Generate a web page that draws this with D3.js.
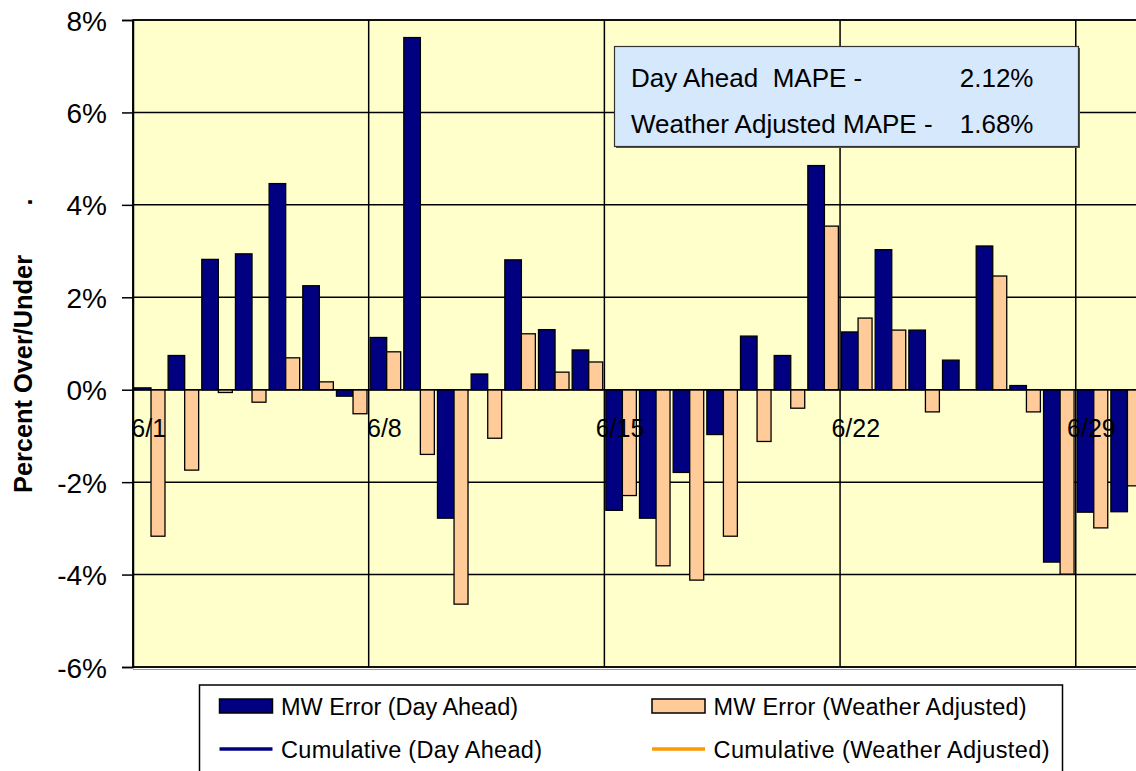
<!DOCTYPE html>
<html>
<head>
<meta charset="utf-8">
<script src="https://cdn.jsdelivr.net/npm/d3@7"></script>
<style>
  html, body { margin: 0; padding: 0; background: #ffffff; }
  svg { display: block; font-family: "Liberation Sans", Arial, Helvetica, sans-serif; }
  text { white-space: pre; }
</style>
</head>
<body>
<svg id="chart" width="1136" height="771"></svg>
<script>
// ---- data ----
const days = [1,2,3,4,5,6,7,8,9,10,11,12,13,14,15,16,17,18,19,20,21,22,23,24,25,26,27,28,29,30];
const dayAhead = [0.04, 0.74, 2.82, 2.94, 4.46, 2.25, -0.14, 1.13, 7.62, -2.78,
                  0.34, 2.81, 1.30, 0.86, -2.61, -2.78, -1.79, -0.97, 1.16, 0.74,
                  4.85, 1.25, 3.03, 1.29, 0.64, 3.11, 0.09, -3.73, -2.65, -2.64];
const weatherAdj = [-3.17, -1.74, -0.06, -0.27, 0.69, 0.17, -0.52, 0.82, -1.40, -4.64,
                    -1.05, 1.21, 0.38, 0.60, -2.29, -3.81, -4.12, -3.17, -1.12, -0.40,
                    3.54, 1.55, 1.29, -0.48, 0.00, 2.46, -0.48, -3.99, -2.99, -2.08];
const yTicks = [-6, -4, -2, 0, 2, 4, 6, 8];
const xTickDays = [1, 8, 15, 22, 29];
const mapeLabels = ["Day Ahead  MAPE -", "Weather Adjusted MAPE -"];
const mapeValues = ["2.12%", "1.68%"];
const legendLabels = ["MW Error (Day Ahead)", "MW Error (Weather Adjusted)",
                      "Cumulative (Day Ahead)", "Cumulative (Weather Adjusted)"];
const legendTypes = ["bar", "bar", "line", "line"];
const legendColors = ["#000080", "#FFCC99", "#000080", "#FF9900"];
const legendTextWidths = [237, 313, 261, 336];
const yTitle = "Percent Over/Under";

// ---- layout ----
const svg = d3.select("#chart");
const pLeft = 133, pTop = 20, pBottom = 667;
const dateOf = d => new Date(Date.UTC(2007, 5, d));
const x = d3.scaleUtc().domain([dateOf(1), dateOf(31)]).range([pLeft, 1143.1]);
const y = d3.scaleLinear().domain([-6, 8]).range([pBottom, pTop]);
const dw = x(dateOf(2)) - x(dateOf(1));
const pRight = x(dateOf(31));

// plot background
svg.append("rect").attr("x", pLeft).attr("y", pTop)
  .attr("width", pRight - pLeft).attr("height", pBottom - pTop)
  .attr("fill", "#FFFFCC");

// horizontal gridlines
svg.append("g").selectAll("line").data(yTicks).join("line")
  .attr("x1", pLeft).attr("x2", pRight)
  .attr("y1", d => y(d)).attr("y2", d => y(d))
  .attr("stroke", "#000").attr("stroke-width", 1.5);

// vertical gridlines (weekly)
svg.append("g").selectAll("line").data(xTickDays).join("line")
  .attr("x1", d => x(dateOf(d))).attr("x2", d => x(dateOf(d)))
  .attr("y1", pTop).attr("y2", pBottom)
  .attr("stroke", "#000").attr("stroke-width", 1.5);

// bars
const bars = svg.append("g");
bars.selectAll("rect.da").data(days).join("rect").attr("class", "da")
  .attr("x", (d) => x(dateOf(d)) + 0.043 * dw)
  .attr("width", 0.492 * dw)
  .attr("y", (d, i) => Math.min(y(dayAhead[i]), y(0)))
  .attr("height", (d, i) => Math.abs(y(dayAhead[i]) - y(0)))
  .attr("fill", "#000080").attr("stroke", "#000").attr("stroke-width", 1.3);
bars.selectAll("rect.wa").data(days).join("rect").attr("class", "wa")
  .attr("x", (d) => x(dateOf(d)) + 0.535 * dw)
  .attr("width", 0.415 * dw)
  .attr("y", (d, i) => Math.min(y(weatherAdj[i]), y(0)))
  .attr("height", (d, i) => Math.abs(y(weatherAdj[i]) - y(0)))
  .attr("fill", "#FFCC99").attr("stroke", "#000").attr("stroke-width", 1.3);

// zero line on top
svg.append("line").attr("x1", pLeft).attr("x2", pRight)
  .attr("y1", y(0)).attr("y2", y(0)).attr("stroke", "#000").attr("stroke-width", 1.5);

// plot border
svg.append("rect").attr("x", pLeft).attr("y", pTop)
  .attr("width", pRight - pLeft).attr("height", pBottom - pTop)
  .attr("fill", "none").attr("stroke", "#000").attr("stroke-width", 1.5);
svg.append("line").attr("x1", pLeft).attr("x2", pRight)
  .attr("y1", pBottom + 2.5).attr("y2", pBottom + 2.5)
  .attr("stroke", "#999").attr("stroke-width", 1);

// y axis
const yAxis = d3.axisLeft(y).tickValues(yTicks).tickFormat(d => d + "%")
  .tickSize(11).tickPadding(15);
const yg = svg.append("g").attr("transform", `translate(${pLeft},0)`).call(yAxis);
yg.select(".domain").attr("stroke", "#000").attr("stroke-width", 1.5);
yg.selectAll(".tick line").attr("stroke", "#000").attr("stroke-width", 1.5);
yg.selectAll(".tick text").attr("font-size", 28).attr("fill", "#000")
  .attr("font-family", "'Liberation Sans', Arial, sans-serif")
  .attr("dy", "0.36em");

// x axis labels at zero line
const xAxis = d3.axisBottom(x).tickValues(xTickDays.map(dateOf))
  .tickFormat(d3.utcFormat("%-m/%-d")).tickSize(0);
const xg = svg.append("g").attr("transform", `translate(0,${y(0)})`).call(xAxis);
xg.select(".domain").remove();
xg.selectAll(".tick text").attr("font-size", 25).attr("fill", "#000")
  .attr("font-family", "'Liberation Sans', Arial, sans-serif")
  .attr("x", 0.45 * dw).attr("y", 47).attr("dy", 0);

// y title
svg.append("text")
  .attr("transform", "translate(31.5,374) rotate(-90)")
  .attr("text-anchor", "middle").attr("font-size", 25).attr("font-weight", "bold")
  .attr("textLength", 238).attr("lengthAdjust", "spacingAndGlyphs")
  .text(yTitle);
svg.append("text")
  .attr("transform", "translate(31.5,202) rotate(-90)")
  .attr("text-anchor", "middle").attr("font-size", 25).attr("font-weight", "bold")
  .text(".");

// MAPE box
svg.append("rect").attr("x", 616).attr("y", 48).attr("width", 464).attr("height", 100)
  .attr("fill", "#555");
svg.append("rect").attr("x", 614.5).attr("y", 46.5).attr("width", 464).attr("height", 100)
  .attr("fill", "#D5E8FC").attr("stroke", "#333").attr("stroke-width", 1.2);
const mapeG = svg.append("g");
mapeG.selectAll("text.lbl").data(mapeLabels).join("text").attr("class", "lbl")
  .attr("x", 631).attr("y", (d, i) => 87 + i * 46)
  .attr("font-size", 26).attr("fill", "#000").text(d => d);
mapeG.selectAll("text.val").data(mapeValues).join("text").attr("class", "val")
  .attr("x", 1033.5).attr("y", (d, i) => 87 + i * 46)
  .attr("text-anchor", "end").attr("font-size", 26).attr("fill", "#000").text(d => d);

// legend
const lg = svg.append("g");
lg.append("rect").attr("x", 199.5).attr("y", 685).attr("width", 863).attr("height", 110)
  .attr("fill", "#fff").attr("stroke", "#000").attr("stroke-width", 1.5);
const colX = [219.5, 652];
const rowY = [706, 749];
legendLabels.forEach((label, i) => {
  const cx = colX[i % 2], ry = rowY[Math.floor(i / 2)];
  if (legendTypes[i] === "bar") {
    lg.append("rect").attr("x", cx).attr("y", ry - 7).attr("width", 53).attr("height", 14)
      .attr("fill", legendColors[i]).attr("stroke", "#000").attr("stroke-width", 1.5);
  } else {
    lg.append("line").attr("x1", cx).attr("x2", cx + 53).attr("y1", ry).attr("y2", ry)
      .attr("stroke", legendColors[i]).attr("stroke-width", 3.3);
  }
  lg.append("text").attr("x", cx + 61.5).attr("y", ry + 9)
    .attr("font-size", 23.5).attr("fill", "#000")
    .attr("textLength", legendTextWidths[i]).attr("lengthAdjust", "spacing")
    .text(label);
});
</script>
</body>
</html>
